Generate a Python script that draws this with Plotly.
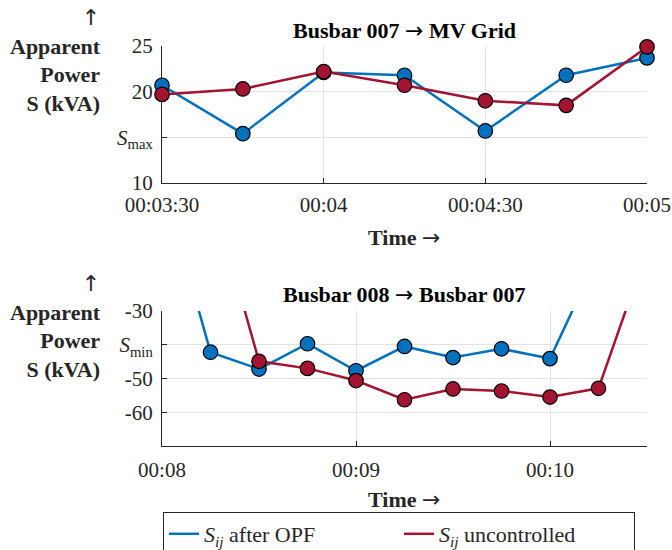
import plotly.graph_objects as go

# ---- data ----
top_time = ["00:03:30", "00:03:45", "00:04:00", "00:04:15", "00:04:30", "00:04:45", "00:05:00"]
top_opf = [20.7, 15.4, 22.1, 21.8, 15.7, 21.8, 23.7]
top_unc = [19.7, 20.3, 22.2, 20.7, 19.0, 18.5, 24.9]

bot_time = ["00:08:00", "00:08:15", "00:08:30", "00:08:45", "00:09:00", "00:09:15",
            "00:09:30", "00:09:45", "00:10:00", "00:10:15", "00:10:30"]
bot_opf = [8.8, -42.2, -47.2, -39.7, -47.7, -40.5, -43.8, -41.2, -44.1, -13.4, 6.0]
bot_unc = [7.0, 6.0, -44.9, -47.0, -50.6, -56.3, -53.1, -53.7, -55.5, -52.9, -11.9]

top_xticks = ["00:03:30", "00:04:00", "00:04:30", "00:05:00"]
top_xticklabels = ["00:03:30", "00:04", "00:04:30", "00:05"]
bot_xticks = ["00:08:00", "00:09:00", "00:10:00"]
bot_xticklabels = ["00:08", "00:09", "00:10"]
top_yticks = [10, 15, 20, 25]
top_yticklabels = ["10", "<i>S</i><sub>max</sub>", "20", "25"]
bot_yticks = [-60, -50, -40, -30]
bot_yticklabels = ["-60", "-50", "<i>S</i><sub>min</sub>", "-30"]

series_names = ["<i>S</i><sub><i>ij</i></sub> after OPF", "<i>S</i><sub><i>ij</i></sub> uncontrolled"]
BLUE = "#0072BD"
RED = "#A2142F"
DAY = "2024-01-01 "


def d(ts):
    return [DAY + t for t in ts]


FONT = "Liberation Serif"
ARW = '<span style="font-family:DejaVu Sans;font-weight:normal">{}</span>'
W, H = 672, 550

fig = go.Figure()

for xs, ys, color, xa, ya in [
    (top_time, top_opf, BLUE, "x", "y"),
    (top_time, top_unc, RED, "x", "y"),
    (bot_time, bot_opf, BLUE, "x2", "y2"),
    (bot_time, bot_unc, RED, "x2", "y2"),
]:
    fig.add_trace(go.Scatter(
        x=d(xs), y=ys, mode="lines+markers", xaxis=xa, yaxis=ya,
        line=dict(color=color, width=2.5),
        marker=dict(color=color, size=14.5, line=dict(color="black", width=1.2)),
        showlegend=False, cliponaxis=False, hoverinfo="skip",
    ))

# legend-only traces (line symbols)
for name, color in zip(series_names, [BLUE, RED]):
    fig.add_trace(go.Scatter(
        x=[None], y=[None], mode="lines", name=name, xaxis="x", yaxis="y",
        line=dict(color=color, width=2.5), showlegend=True,
    ))

axis_common = dict(
    showline=True, linecolor="#262626", linewidth=1,
    ticks="inside", ticklen=5, tickcolor="#262626",
    showgrid=True, gridcolor="#e3e3e3", gridwidth=1,
    zeroline=False, mirror=False, layer="below traces", automargin=False,
    tickfont=dict(family=FONT, size=21, color="#262626"),
)

fig.update_layout(
    width=W, height=H, autosize=False,
    margin=dict(l=0, r=0, t=0, b=0, autoexpand=False),
    paper_bgcolor="white", plot_bgcolor="white",
    font=dict(family=FONT, size=20, color="#262626"),
    xaxis=dict(**axis_common, type="date", domain=[162 / W, 647 / W],
               range=[DAY + "00:03:30", DAY + "00:05:00"],
               tickmode="array", tickvals=d(top_xticks), ticktext=top_xticklabels,
               anchor="y", ticklabelstandoff=3),
    yaxis=dict(**axis_common, domain=[1 - 183 / H, 1 - 46 / H], range=[10, 25],
               tickmode="array", tickvals=top_yticks, ticktext=top_yticklabels,
               anchor="x", ticklabelstandoff=4),
    xaxis2=dict(**axis_common, type="date", domain=[162 / W, 647 / W],
                range=[DAY + "00:08:00", DAY + "00:10:30"],
                tickmode="array", tickvals=d(bot_xticks), ticktext=bot_xticklabels,
                anchor="y2", ticklabelstandoff=5),
    yaxis2=dict(**axis_common, domain=[1 - 446 / H, 1 - 311 / H], range=[-70, -30],
                tickmode="array", tickvals=bot_yticks, ticktext=bot_yticklabels,
                anchor="x2", ticklabelstandoff=4),
    legend=dict(orientation="h", x=163 / W, xanchor="left", y=1 - 512 / H, yanchor="top",
                bordercolor="#262626", borderwidth=1, bgcolor="white",
                font=dict(family=FONT, size=22, color="#262626"),
                entrywidth=190, itemwidth=30, tracegroupgap=0),
)

ann = []
ann.append(dict(text="<b>Busbar 007 " + ARW.format("→") + " MV Grid</b>", x=404 / W, y=1 - 30 / H,
                xref="paper", yref="paper", showarrow=False, xanchor="center", yanchor="middle",
                font=dict(family=FONT, size=22, color="black")))
ann.append(dict(text="<b>Busbar 008 " + ARW.format("→") + " Busbar 007</b>", x=404 / W, y=1 - 294 / H,
                xref="paper", yref="paper", showarrow=False, xanchor="center", yanchor="middle",
                font=dict(family=FONT, size=22, color="black")))
for yc in [237, 499]:
    ann.append(dict(text="<b>Time " + ARW.format("→") + "</b>", x=404 / W, y=1 - yc / H,
                    xref="paper", yref="paper", showarrow=False, xanchor="center", yanchor="middle",
                    font=dict(family=FONT, size=22, color="#262626")))
for yc in [60, 326]:
    ann.append(dict(text=ARW.format("↑") + "<br><b>Apparent</b><br><b>Power</b><br><b>S (kVA)</b>",
                    x=103 / W, y=1 - yc / H, xref="paper", yref="paper", showarrow=False,
                    xanchor="right", yanchor="middle", align="right",
                    font=dict(family=FONT, size=22, color="#262626")))
fig.update_layout(annotations=ann)

fig.write_html("out.html")
